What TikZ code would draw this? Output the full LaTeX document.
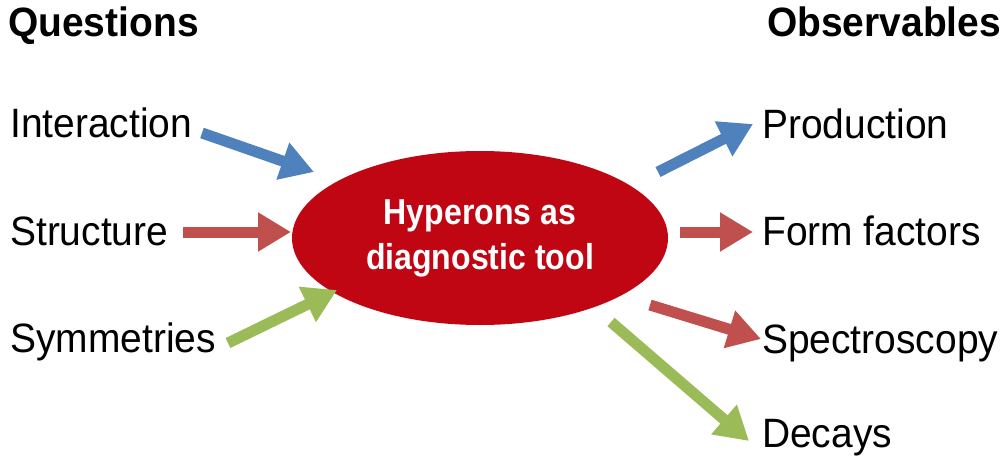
\documentclass[tikz,border=0pt]{standalone}
\usepackage{fontspec}
\setmainfont{Liberation Sans}[FakeStretch=0.95]
\newfontfamily\hypfont{Liberation Sans}[FakeStretch=0.89]
\usetikzlibrary{shapes.geometric,arrows.meta}
\definecolor{hypred}{RGB}{192,6,18}
\definecolor{qblue}{RGB}{79,129,189}
\definecolor{qred}{RGB}{192,80,77}
\definecolor{qgreen}{RGB}{155,187,89}

\begin{document}
\begin{tikzpicture}[x=1pt,y=-1pt,
  lbl/.style={anchor=base west, inner sep=0pt, font=\fontsize{41}{46}\selectfont},
  head/.style={lbl, font=\fontsize{41}{46}\selectfont\bfseries},
  blockarrow/.style={line width=11pt, -{Triangle[length=33pt,width=37pt]}}]
 \useasboundingbox (0,0) rectangle (1008,468);
 % headings
 \node (quest) [head] at (8,37) {Questions};
 \node (obs) [head] at (767,37) {Observables};
 % questions
 \node (inter) [lbl] at (10,137) {Interaction};
 \node (struct) [lbl] at (10,245) {Structure};
 \node (sym) [lbl] at (10,352) {Symmetries};
 % observables
 \node (prod) [lbl] at (762,138) {Production};
 \node (ff) [lbl] at (762,245) {Form factors};
 \node (spec) [lbl] at (762,353) {Spectroscopy};
 \node (dec) [lbl] at (762,447) {Decays};
 % centre
 \node (hyp) [ellipse, fill=hypred, minimum width=376pt, minimum height=174pt, inner sep=0pt,
   text=white, align=center, font=\hypfont\fontsize{36}{45}\selectfont\bfseries] at (480,238)
   {Hyperons as\\diagnostic tool};
 % arrow ends
 \coordinate (inter-a) at (202,133);  \coordinate (inter-b) at (314,172);
 \coordinate (struct-a) at (183,232); \coordinate (struct-b) at (291,232);
 \coordinate (sym-a) at (228,343);    \coordinate (sym-b) at (337,290);
 \coordinate (prod-a) at (658,172);   \coordinate (prod-b) at (753,124);
 \coordinate (ff-a) at (680,232);     \coordinate (ff-b) at (753,232);
 \coordinate (spec-a) at (650,305);   \coordinate (spec-b) at (761,339);
 \coordinate (dec-a) at (611,322);    \coordinate (dec-b) at (749,441);
 \draw[blockarrow, qblue] (inter-a) -- (inter-b);
 \draw[blockarrow, qred] (struct-a) -- (struct-b);
 \draw[blockarrow, qgreen] (sym-a) -- (sym-b);
 \draw[blockarrow, qblue] (prod-a) -- (prod-b);
 \draw[blockarrow, qred] (ff-a) -- (ff-b);
 \draw[blockarrow, qred] (spec-a) -- (spec-b);
 \draw[blockarrow, qgreen] (dec-a) -- (dec-b);
\end{tikzpicture}
\end{document}
